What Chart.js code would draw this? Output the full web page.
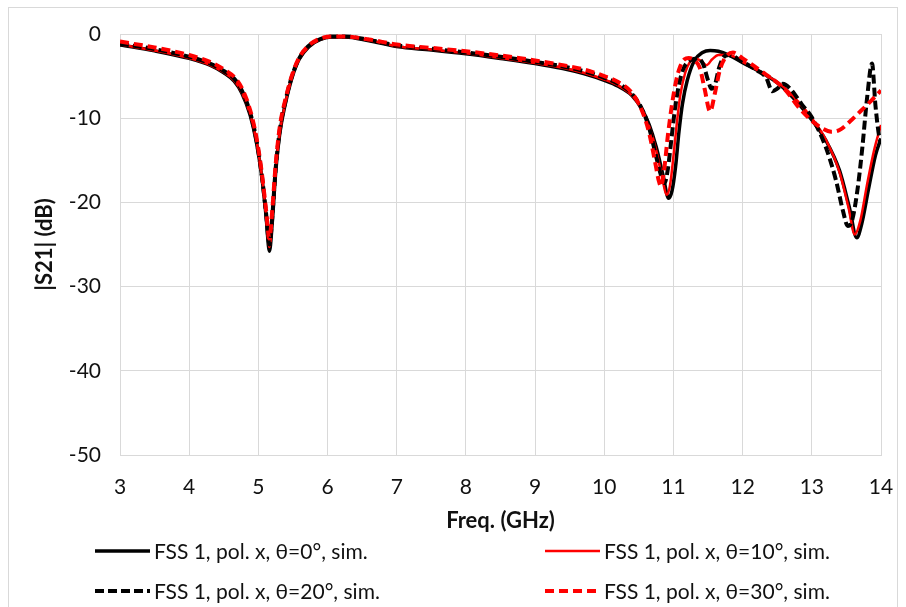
<!DOCTYPE html>
<html>
<head>
<meta charset="utf-8">
<script src="https://cdn.jsdelivr.net/npm/chart.js@4.4.1/dist/chart.umd.min.js"></script>
<style>
  html, body { margin: 0; padding: 0; background: #fff; }
  #wrap { width: 906px; height: 607px; position: relative; }
</style>
</head>
<body>
<div id="wrap"><canvas id="c" width="906" height="607"></canvas></div>
<script>
// Transmission |S21| of FSS 1, x polarisation, simulated at four incidence angles
const seriesLabels = [
  'FSS 1, pol. x, \u03b8=0\u00b0, sim.',
  'FSS 1, pol. x, \u03b8=10\u00b0, sim.',
  'FSS 1, pol. x, \u03b8=20\u00b0, sim.',
  'FSS 1, pol. x, \u03b8=30\u00b0, sim.'
];

const xTicks = [3, 4, 5, 6, 7, 8, 9, 10, 11, 12, 13, 14];
const yTicks = [0, -10, -20, -30, -40, -50];

// theta = 0 deg
const freq0 = [3.0, 3.5, 4.0, 4.3, 4.5, 4.65, 4.76, 4.88, 4.97, 5.05, 5.11, 5.16, 5.2, 5.25, 5.31, 5.39, 5.49, 5.59, 5.73, 5.88,
  6.05, 6.25, 6.6, 7.0, 7.5, 8.0, 8.5, 9.0, 9.4, 9.7, 10.0, 10.2, 10.4, 10.55, 10.65, 10.75, 10.85, 10.93, 10.98, 11.03,
  11.08, 11.13, 11.2, 11.3, 11.42, 11.53, 11.65, 11.8, 12.0, 12.3, 12.55, 12.8, 13.0, 13.2, 13.4, 13.54, 13.65, 13.72, 13.82, 13.92, 14.0];
const s21_0 = [-1.3, -2.0, -2.9, -3.7, -4.6, -5.6, -7.0, -9.6, -12.8, -17.0, -21.5, -25.8, -22.5, -16.5, -11.8, -8.3, -5.1, -3.0, -1.5, -0.7,
  -0.35, -0.35, -0.8, -1.5, -1.9, -2.35, -2.9, -3.5, -4.1, -4.7, -5.5, -6.2, -7.3, -9.0, -10.8, -13.4, -16.8, -19.5, -18.6, -15.8,
  -11.6, -8.3, -5.5, -3.2, -2.2, -1.95, -2.05, -2.5, -3.4, -4.7, -6.1, -8.2, -10.2, -12.6, -16.2, -20.5, -24.2, -22.6, -18.4, -14.4, -12.4];

// theta = 10 deg
const freq10 = [3.0, 3.5, 4.0, 4.3, 4.5, 4.65, 4.76, 4.88, 4.97, 5.05, 5.11, 5.16, 5.2, 5.25, 5.31, 5.39, 5.49, 5.59, 5.73, 5.88,
  6.05, 6.25, 6.6, 7.0, 7.5, 8.0, 8.5, 9.0, 9.4, 9.7, 10.0, 10.2, 10.4, 10.55, 10.65, 10.75, 10.84, 10.9, 10.95, 11.0,
  11.05, 11.1, 11.17, 11.24, 11.31, 11.4, 11.48, 11.56, 11.65, 11.8, 12.0, 12.3, 12.55, 12.8, 13.0, 13.2, 13.4, 13.53, 13.62, 13.7,
  13.8, 13.9, 14.0];
const s21_10 = [-1.25, -1.95, -2.85, -3.65, -4.55, -5.5, -6.9, -9.5, -12.6, -16.8, -21.2, -25.3, -22.2, -16.3, -11.7, -8.2, -5.0, -3.0, -1.5, -0.7,
  -0.35, -0.35, -0.75, -1.45, -1.85, -2.3, -2.85, -3.45, -4.0, -4.6, -5.4, -6.1, -7.3, -9.1, -11.0, -13.8, -17.2, -19.1, -18.0, -14.5,
  -10.5, -7.2, -4.6, -3.3, -2.9, -3.2, -3.7, -3.0, -2.5, -2.5, -3.3, -4.7, -6.0, -8.0, -10.0, -12.5, -16.4, -20.6, -23.8, -22.2,
  -17.8, -13.8, -10.8];

// theta = 20 deg
const freq20 = [3.0, 3.5, 4.0, 4.3, 4.5, 4.65, 4.76, 4.88, 4.97, 5.05, 5.11, 5.16, 5.2, 5.25, 5.31, 5.39, 5.49, 5.59, 5.73, 5.88,
  6.05, 6.25, 6.6, 7.0, 7.5, 8.0, 8.5, 9.0, 9.4, 9.7, 10.0, 10.2, 10.4, 10.55, 10.65, 10.74, 10.82, 10.87, 10.92, 10.97,
  11.02, 11.08, 11.15, 11.25, 11.36, 11.43, 11.5, 11.55, 11.6, 11.66, 11.72, 11.8, 12.0, 12.2, 12.34, 12.43, 12.5, 12.58, 12.7, 12.85,
  13.0, 13.2, 13.35, 13.45, 13.52, 13.58, 13.66, 13.73, 13.8, 13.87, 13.92, 13.97, 14.0];
const s21_20 = [-1.15, -1.8, -2.7, -3.5, -4.4, -5.3, -6.7, -9.3, -12.5, -16.8, -21.2, -25.0, -21.8, -16.0, -11.4, -8.0, -4.9, -2.9, -1.4, -0.65,
  -0.3, -0.3, -0.7, -1.35, -1.75, -2.2, -2.7, -3.3, -3.85, -4.4, -5.2, -5.9, -7.1, -9.0, -11.2, -14.2, -16.8, -17.7, -16.0, -12.5,
  -9.0, -6.0, -4.0, -3.1, -2.9, -3.6, -5.5, -6.5, -6.0, -4.0, -2.8, -2.5, -3.3, -4.3, -5.2, -6.8, -6.5, -5.9, -6.6, -8.3,
  -9.9, -13.4, -17.4, -21.0, -22.8, -22.2, -18.5, -13.5, -7.5, -3.5, -8.5, -12.0, -13.0];

// theta = 30 deg
const freq30 = [3.0, 3.5, 4.0, 4.3, 4.5, 4.65, 4.76, 4.88, 4.97, 5.05, 5.11, 5.16, 5.2, 5.25, 5.31, 5.39, 5.49, 5.59, 5.73, 5.88,
  6.05, 6.25, 6.6, 7.0, 7.5, 8.0, 8.5, 9.0, 9.4, 9.7, 10.0, 10.2, 10.4, 10.55, 10.65, 10.73, 10.79, 10.82, 10.86, 10.92,
  10.98, 11.04, 11.1, 11.16, 11.22, 11.3, 11.38, 11.45, 11.53, 11.6, 11.67, 11.75, 11.86, 12.0, 12.3, 12.6, 12.82, 13.0, 13.15, 13.28,
  13.4, 13.55, 13.7, 13.85, 14.0];
const s21_30 = [-0.9, -1.6, -2.5, -3.3, -4.2, -5.1, -6.4, -9.0, -12.2, -16.5, -20.8, -24.3, -21.0, -15.5, -11.0, -7.8, -4.8, -2.8, -1.35, -0.6,
  -0.3, -0.3, -0.65, -1.25, -1.65, -2.05, -2.55, -3.15, -3.7, -4.2, -5.0, -5.7, -7.0, -9.2, -11.8, -15.0, -17.5, -18.1, -16.5, -12.0,
  -8.3, -5.5, -3.8, -3.0, -2.85, -3.1, -4.0, -6.5, -9.2, -7.0, -4.3, -2.8, -2.2, -2.9, -4.6, -6.5, -8.8, -10.3, -11.2, -11.6,
  -11.4, -10.4, -9.2, -8.0, -6.7];

const pairs = (xs, ys) => xs.map((x, i) => ({ x: x, y: ys[i] }));

const FONT = 'Lato, "Open Sans", "DejaVu Sans", sans-serif';
const GRID = '#d9d9d9';
const TEXT = '#111111';

// White background plus the thin outer frame of the chart
const framePlugin = {
  id: 'frame',
  beforeDraw(chart) {
    const ctx = chart.ctx;
    ctx.save();
    ctx.fillStyle = '#fff';
    ctx.fillRect(0, 0, chart.width, chart.height);
    ctx.strokeStyle = GRID;
    ctx.lineWidth = 1;
    ctx.strokeRect(8.5, 7.5, 889, 640);
    ctx.restore();
  }
};

// Two-column legend under the axis title
const gridLegend = {
  id: 'gridLegend',
  afterDraw(chart) {
    const ctx = chart.ctx;
    const colX = [95, 545];
    const rowY = [551, 591];
    const lineLen = 55;
    ctx.save();
    ctx.font = '21px ' + FONT;
    ctx.textBaseline = 'middle';
    ctx.textAlign = 'left';
    chart.data.datasets.forEach((ds, i) => {
      const x = colX[i % 2];
      const y = rowY[Math.floor(i / 2)];
      ctx.beginPath();
      ctx.strokeStyle = ds.borderColor;
      ctx.lineWidth = ds.borderWidth;
      ctx.setLineDash(ds.borderDash || []);
      ctx.lineCap = 'butt';
      ctx.moveTo(x, y);
      ctx.lineTo(x + lineLen, y);
      ctx.stroke();
      ctx.setLineDash([]);
      ctx.fillStyle = TEXT;
      ctx.fillText(ds.label, x + lineLen + 4, y + 1);
    });
    ctx.restore();
  }
};

const datasets = [
  { label: seriesLabels[0], data: pairs(freq0, s21_0), borderColor: '#000000', borderWidth: 3.5, order: 3 },
  { label: seriesLabels[1], data: pairs(freq10, s21_10), borderColor: '#ff0000', borderWidth: 2.5, order: 2 },
  { label: seriesLabels[2], data: pairs(freq20, s21_20), borderColor: '#000000', borderWidth: 4, borderDash: [9, 4], order: 1 },
  { label: seriesLabels[3], data: pairs(freq30, s21_30), borderColor: '#ff0000', borderWidth: 4, borderDash: [9, 5], order: 0 }
].map(d => Object.assign({
  type: 'line',
  fill: false,
  pointRadius: 0,
  pointHoverRadius: 0,
  cubicInterpolationMode: 'monotone',
  borderCapStyle: 'butt',
  borderJoinStyle: 'round'
}, d));

new Chart(document.getElementById('c'), {
  type: 'line',
  data: { datasets: datasets },
  options: {
    responsive: false,
    animation: false,
    devicePixelRatio: 1,
    layout: { padding: { left: 0, top: 34, right: 25, bottom: 73 } },
    plugins: {
      legend: { display: false },
      tooltip: { enabled: false },
      title: { display: false }
    },
    scales: {
      x: {
        type: 'linear',
        min: 3,
        max: 14,
        afterBuildTicks(scale) { scale.ticks = xTicks.map(v => ({ value: v })); },
        afterFit(scale) { scale.height = 79; scale.paddingLeft = 0; scale.paddingRight = 0; },
        grid: { color: GRID, lineWidth: 1, drawTicks: false },
        border: { color: GRID, width: 1 },
        ticks: { padding: 20, color: TEXT, font: { family: FONT, size: 21 }, maxRotation: 0 },
        title: { display: true, text: 'Freq. (GHz)', color: TEXT, font: { family: FONT, size: 22, weight: 'bold' }, padding: { top: 0, bottom: 0 } }
      },
      y: {
        type: 'linear',
        min: -50,
        max: 0,
        afterBuildTicks(scale) { scale.ticks = yTicks.map(v => ({ value: v })); },
        afterFit(scale) { scale.width = 120; scale.paddingTop = 0; scale.paddingBottom = 0; },
        grid: { color: GRID, lineWidth: 1, drawTicks: false },
        border: { color: GRID, width: 1 },
        ticks: { padding: 19, color: TEXT, font: { family: FONT, size: 21 } },
        title: { display: true, text: '|S21| (dB)', color: TEXT, font: { family: FONT, size: 22, weight: 'bold' }, padding: { top: 32, bottom: 0 } }
      }
    }
  },
  plugins: [framePlugin, gridLegend]
});
</script>
</body>
</html>
